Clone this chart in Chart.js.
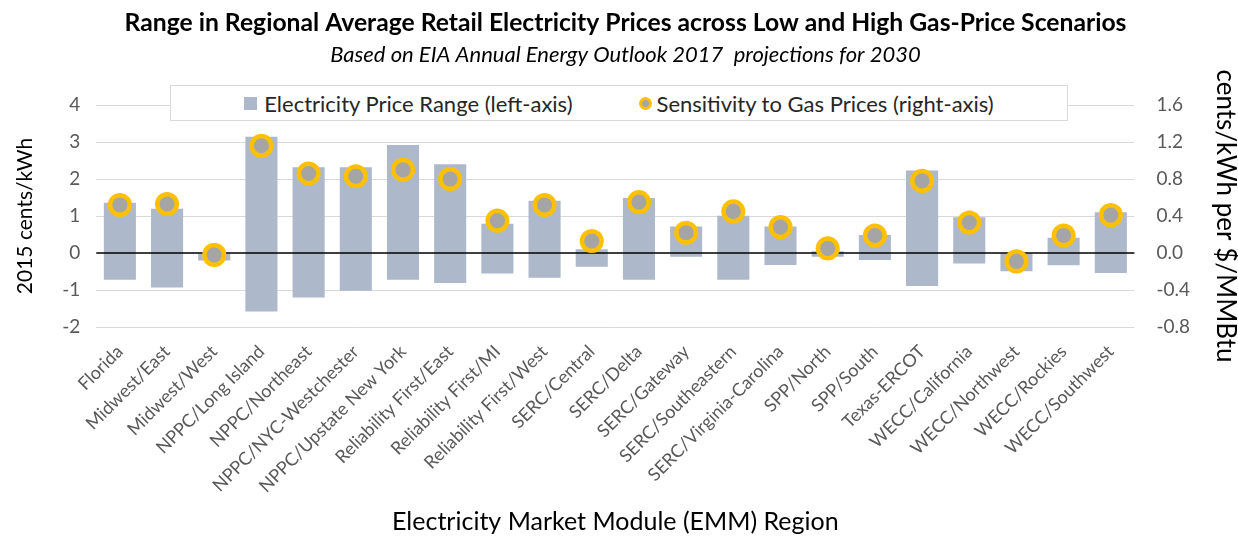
<!DOCTYPE html>
<html>
<head>
<meta charset="utf-8">
<script src="https://cdn.jsdelivr.net/npm/chart.js@4/dist/chart.umd.min.js"></script>
<style>
  html, body { margin: 0; padding: 0; background: #fff; }
  #wrap { position: relative; width: 1238px; height: 537px; }
  #legend {
    position: absolute; left: 170px; top: 85px; width: 896px; height: 34px;
    border: 1px solid #D9D9D9; background: #fff; box-sizing: content-box;
    display: flex; align-items: center; justify-content: center;
    font-family: Lato, "Open Sans", sans-serif; font-size: 22px; color: #262626;
  }
  .item { display: flex; align-items: center; margin: 0 33px; white-space: nowrap; }
  .sq { width: 13px; height: 13px; background: #ADB9CA; margin-right: 7px; }
  .dot { width: 7px; height: 7px; border-radius: 50%; background: #A5A5A5; border: 3px solid #FFC000; margin-right: 5px; }
</style>
</head>
<body>
<div id="wrap">
  <canvas id="c" width="1238" height="537"></canvas>
  <div id="legend"></div>
</div>
<script>
const categories = [
  "Florida", "Midwest/East", "Midwest/West", "NPPC/Long Island", "NPPC/Northeast",
  "NPPC/NYC-Westchester", "NPPC/Upstate New York", "Reliability First/East",
  "Reliability First/MI", "Reliability First/West", "SERC/Central", "SERC/Delta",
  "SERC/Gateway", "SERC/Southeastern", "SERC/Virginia-Carolina", "SPP/North",
  "SPP/South", "Texas-ERCOT", "WECC/California", "WECC/Northwest", "WECC/Rockies",
  "WECC/Southwest"
];
const priceLow  = [-0.72, -0.93, -0.20, -1.58, -1.20, -1.02, -0.72, -0.81, -0.55, -0.67, -0.37, -0.72, -0.10, -0.72, -0.32, -0.10, -0.19, -0.89, -0.28, -0.49, -0.33, -0.54];
const priceHigh = [ 1.36,  1.20,  0.00,  3.14,  2.32,  2.32,  2.92,  2.40,  0.79,  1.41,  0.10,  1.49,  0.72,  1.01,  0.72,  0.05,  0.49,  2.23,  0.97,  0.00,  0.41,  1.10];
const sensitivity = [0.52, 0.53, -0.02, 1.16, 0.86, 0.83, 0.90, 0.80, 0.35, 0.52, 0.13, 0.55, 0.22, 0.45, 0.28, 0.05, 0.19, 0.78, 0.33, -0.09, 0.19, 0.41];

const seriesNames = ["Electricity Price Range (left-axis)", "Sensitivity to Gas Prices (right-axis)"];
const leftAxisRange = { min: -2, max: 4, step: 1 };
const rightAxisRange = { min: -0.8, max: 1.6, step: 0.4 };

const FONT = "Lato, 'Open Sans', sans-serif";

document.getElementById('legend').innerHTML =
  '<div class="item"><div class="sq"></div><span>' + seriesNames[0] + '</span></div>' +
  '<div class="item"><div class="dot"></div><span>' + seriesNames[1] + '</span></div>';

const zeroLine = {
  id: 'zeroLine',
  afterDatasetDraw(chart, args) {
    if (args.meta.type !== 'bar') return;
    const y = chart.scales.y.getPixelForValue(0);
    const ctx = chart.ctx;
    ctx.save();
    ctx.strokeStyle = '#000';
    ctx.lineWidth = 1.5;
    ctx.beginPath();
    ctx.moveTo(chart.chartArea.left, y);
    ctx.lineTo(chart.chartArea.right, y);
    ctx.stroke();
    ctx.restore();
  }
};

new Chart(document.getElementById('c'), {
  type: 'bar',
  data: {
    labels: categories,
    datasets: [
      {
        type: 'line',
        label: seriesNames[1],
        data: sensitivity,
        yAxisID: 'y2',
        showLine: false,
        pointRadius: 9.8,
        pointHoverRadius: 9.8,
        pointBorderWidth: 4.5,
        pointBackgroundColor: '#A5A5A5',
        pointBorderColor: '#FFC000',
        order: 0
      },
      {
        type: 'bar',
        label: seriesNames[0],
        data: categories.map((c, i) => [priceLow[i], priceHigh[i]]),
        yAxisID: 'y',
        backgroundColor: '#ADB9CA',
        borderWidth: 0,
        barPercentage: 1,
        categoryPercentage: 0.68,
        order: 1
      }
    ]
  },
  options: {
    responsive: false,
    animation: false,
    layout: { padding: { left: 13, right: 0, bottom: 0, top: 0 } },
    plugins: {
      legend: { display: false },
      tooltip: { enabled: false },
      title: {
        display: true,
        text: 'Range in Regional Average Retail Electricity Prices across Low and High Gas-Price Scenarios',
        font: { family: FONT, size: 24.7, weight: 'bold' },
        color: '#000',
        padding: { top: 8, bottom: 4 }
      },
      subtitle: {
        display: true,
        text: 'Based on EIA Annual Energy Outlook 2017  projections for 2030',
        font: { family: FONT, size: 22, style: 'italic' },
        color: '#000',
        padding: { top: 0, bottom: 37 }
      }
    },
    scales: {
      x: {
        offset: true,
        grid: { display: false },
        border: { display: false },
        ticks: {
          font: { family: FONT, size: 18 },
          color: '#595959',
          minRotation: 45,
          maxRotation: 45,
          autoSkip: false,
          padding: 6
        },
        title: {
          display: true,
          text: 'Electricity Market Module (EMM) Region',
          font: { family: FONT, size: 25 },
          color: '#000',
          padding: { top: 4, bottom: 0 }
        }
      },
      y: {
        position: 'left',
        min: leftAxisRange.min,
        max: leftAxisRange.max,
        border: { display: false },
        grid: {
          color: ctx => ctx.tick && ctx.tick.value === 0 ? 'rgba(0,0,0,0)' : '#D9D9D9',
          drawTicks: false
        },
        ticks: {
          stepSize: leftAxisRange.step,
          font: { family: FONT, size: 19 },
          color: '#595959',
          padding: 16
        },
        title: {
          display: true,
          text: '2015 cents/kWh',
          font: { family: FONT, size: 21 },
          color: '#000',
          padding: { top: 0, bottom: 8 }
        }
      },
      y2: {
        position: 'right',
        min: rightAxisRange.min,
        max: rightAxisRange.max,
        border: { display: false },
        grid: { display: false, drawTicks: false },
        ticks: {
          stepSize: rightAxisRange.step,
          font: { family: FONT, size: 19 },
          color: '#595959',
          padding: 22,
          callback: v => Number(v).toFixed(1)
        },
        title: {
          display: true,
          text: 'cents/kWh per $/MMBtu',
          font: { family: FONT, size: 26, lineHeight: 1 },
          color: '#000',
          padding: { top: 0, bottom: 0 }
        }
      }
    }
  },
  plugins: [zeroLine]
});
</script>
</body>
</html>
